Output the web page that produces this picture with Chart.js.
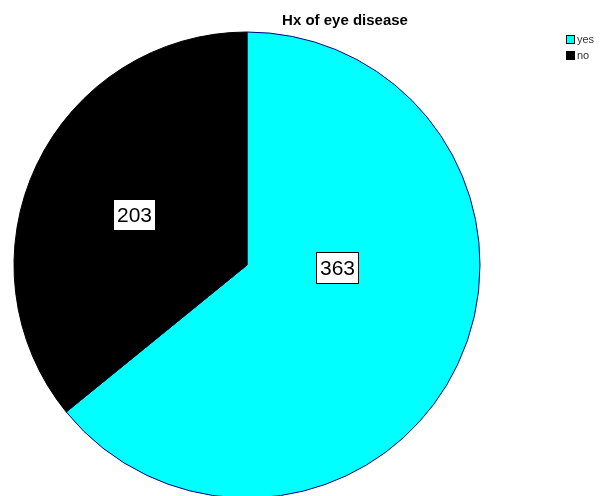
<!DOCTYPE html>
<html><head><meta charset="utf-8">
<script src="https://cdn.jsdelivr.net/npm/chart.js@4"></script>
<style>html,body{margin:0;padding:0;background:#fff}#wrap{width:603px;height:496px}</style>
</head><body><div id="wrap"><canvas id="c" width="603" height="496"></canvas></div>
<script>
const categories = ['yes', 'no'];
const counts = [363, 203];
const titleText = 'Hx of eye disease';

const sliceColors = ['#00ffff', '#000000'];
const sliceBorders = ['#000080', '#000000'];
// label placement within each slice: fraction of the slice's angular span, fraction of radius
const labelAngleFrac = [0.398, 0.488];
const labelRadiusFrac = [0.39, 0.53];

const overlay = {
  id: 'overlay',
  afterDraw(chart) {
    const ctx = chart.ctx;
    ctx.save();
    // title
    ctx.fillStyle = '#000';
    ctx.font = 'bold 15px "Liberation Sans", Arial, sans-serif';
    ctx.textAlign = 'center';
    ctx.textBaseline = 'alphabetic';
    ctx.fillText(titleText, 345, 25);
    // legend
    ctx.font = '11px "Liberation Sans Narrow", "Liberation Sans", Arial, sans-serif';
    ctx.textAlign = 'left';
    ctx.textBaseline = 'middle';
    categories.forEach((c, i) => {
      const y = 35 + i * 16;
      ctx.fillStyle = sliceColors[i];
      ctx.fillRect(566, y, 9, 9);
      ctx.strokeStyle = '#000';
      ctx.lineWidth = 1;
      ctx.strokeRect(566.5, y + 0.5, 8, 8);
      ctx.fillStyle = '#333';
      ctx.fillText(c, 577, y + 5);
    });
    // value labels
    const meta = chart.getDatasetMeta(0);
    ctx.font = '21px "Liberation Sans", Arial, sans-serif';
    ctx.textAlign = 'center';
    meta.data.forEach((arc, i) => {
      const p = arc.getProps(['x', 'y', 'startAngle', 'endAngle', 'outerRadius'], true);
      const a = p.startAngle + labelAngleFrac[i] * (p.endAngle - p.startAngle);
      const r = p.outerRadius * labelRadiusFrac[i];
      const cx = p.x + Math.cos(a) * r;
      const cy = p.y + Math.sin(a) * r;
      const txt = String(counts[i]);
      const tw = ctx.measureText(txt).width;
      const w = Math.round(tw + 8), h = 32;
      const x0 = Math.round(cx - w / 2), y0 = Math.round(cy - h / 2);
      ctx.fillStyle = '#fff';
      ctx.fillRect(x0, y0, w, h);
      ctx.strokeStyle = '#000';
      ctx.lineWidth = 1;
      ctx.strokeRect(x0 + 0.5, y0 + 0.5, w - 1, h - 1);
      ctx.fillStyle = '#000';
      ctx.fillText(txt, x0 + w / 2, y0 + h / 2 + 1);
    });
    ctx.restore();
  }
};

new Chart(document.getElementById('c'), {
  type: 'pie',
  data: {
    labels: categories,
    datasets: [{
      data: counts,
      backgroundColor: sliceColors,
      borderColor: sliceBorders,
      borderWidth: 1
    }]
  },
  options: {
    responsive: false,
    animation: false,
    radius: 233,
    layout: { padding: { left: 14, right: 123, top: 34, bottom: 0 } },
    plugins: { legend: { display: false }, title: { display: false }, tooltip: { enabled: false } }
  },
  plugins: [overlay]
});
</script>
</body></html>
